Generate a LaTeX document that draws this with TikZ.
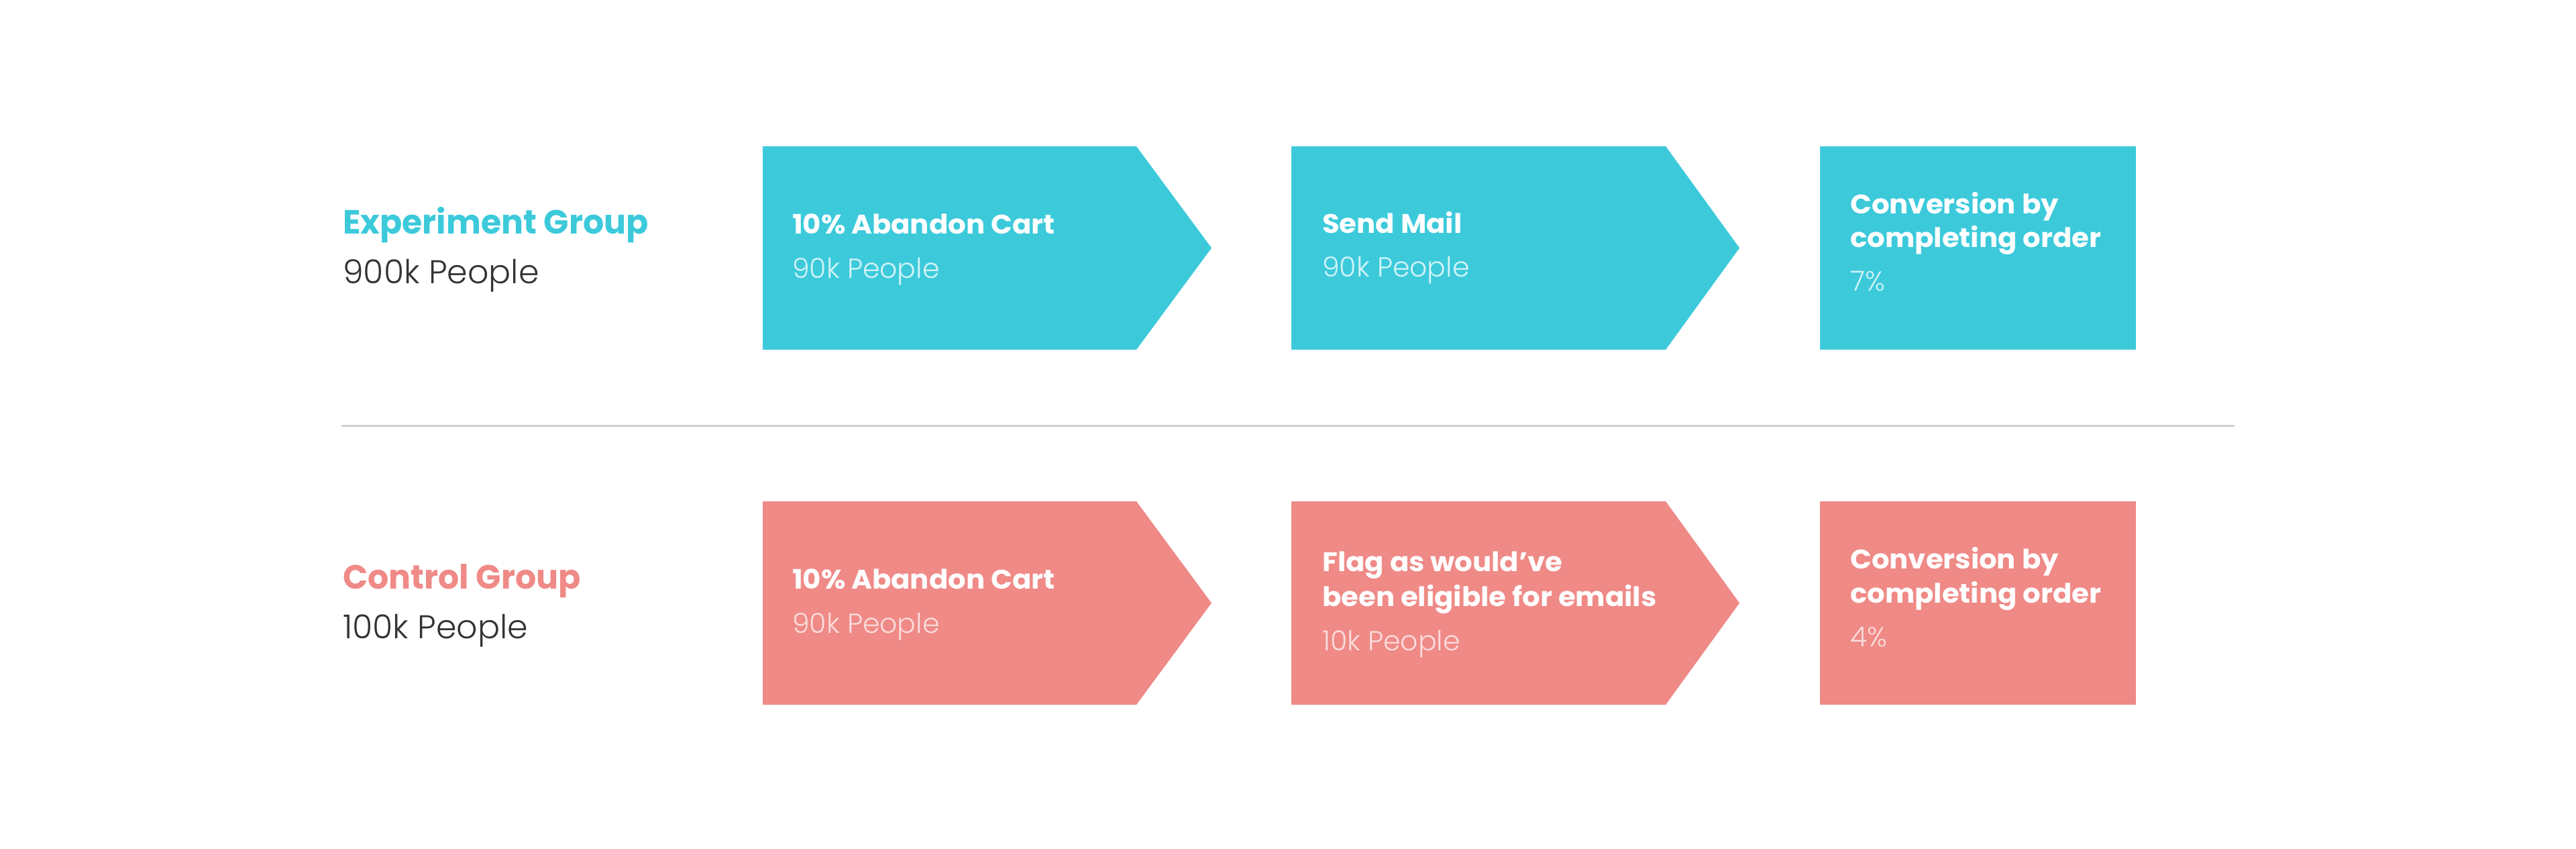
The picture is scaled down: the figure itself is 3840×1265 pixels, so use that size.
\documentclass[tikz,border=0pt]{standalone}
\usepackage{fontspec}
\newfontfamily\headfont{Poppins Bold}[FakeStretch=0.98]
\newfontfamily\boxheadfont{Poppins Bold}[FakeStretch=1.045]
\newfontfamily\lightfont{Poppins Light}
\definecolor{cyanbox}{HTML}{3CCADB}
\definecolor{pinkbox}{HTML}{EF8A87}
\definecolor{cyansub}{HTML}{D2F3F7}
\definecolor{pinksub}{HTML}{FBDCDB}
\definecolor{darktext}{HTML}{333333}
\definecolor{divider}{HTML}{CFCFCF}
\tikzset{
  grouphead/.style={anchor=base west, inner sep=0pt, font=\headfont\fontsize{50}{50}\selectfont},
  groupsub/.style={anchor=base west, inner sep=0pt, text=darktext, font=\lightfont\fontsize{49}{49}\selectfont},
  boxhead/.style={anchor=base west, inner sep=0pt, text=white, font=\boxheadfont\fontsize{40}{40}\selectfont},
  boxsub/.style={anchor=base west, inner sep=0pt, font=\lightfont\fontsize{41}{41}\selectfont},
}
\begin{document}
\begin{tikzpicture}[x=1pt,y=-1pt]
\useasboundingbox (0,0) rectangle (3840,1265);
% row 1 shapes
\fill[cyanbox] (1137,218) -- (1694,218) -- (1806,369.5) -- (1694,521) -- (1137,521) -- cycle;
\fill[cyanbox] (1925,218) -- (2483,218) -- (2593,369.5) -- (2483,521) -- (1925,521) -- cycle;
\fill[cyanbox] (2713,218) rectangle (3184,521);
% row 2 shapes
\fill[pinkbox] (1137,747) -- (1694,747) -- (1806,898.5) -- (1694,1050) -- (1137,1050) -- cycle;
\fill[pinkbox] (1925,747) -- (2483,747) -- (2593,898.5) -- (2483,1050) -- (1925,1050) -- cycle;
\fill[pinkbox] (2713,747) rectangle (3184,1050);
% divider
\coordinate (dl) at (509,634);
\coordinate (dr) at (3331,634);
\draw[divider, line width=3pt] (dl) -- (dr);
% row 1 texts
\node[grouphead, text=cyanbox] (eg) at (511,348) {Experiment Group};
\node[groupsub] (egs) at (511,422) {900k People};
\node[boxhead] (a1) at (1181,348) {10\% Abandon Cart};
\node[boxsub, text=cyansub] (a1s) at (1181,414) {90k People};
\node[boxhead] (b1) at (1971,347) {Send Mail};
\node[boxsub, text=cyansub] (b1s) at (1971,412) {90k People};
\node[boxhead] (c1) at (2758,318) {Conversion by};
\node[boxhead] (c1b) at (2758,368) {completing order};
\node[boxsub, text=cyansub] (c1s) at (2758,433) {7\%};
% row 2 texts
\node[grouphead, text=pinkbox] (cg) at (511,877) {Control Group};
\node[groupsub] (cgs) at (511,951) {100k People};
\node[boxhead] (a2) at (1181,877) {10\% Abandon Cart};
\node[boxsub, text=pinksub] (a2s) at (1181,943) {90k People};
\node[boxhead] (b2) at (1971,851) {Flag as would’ve};
\node[boxhead] (b2b) at (1971,903) {been eligible for emails};
\node[boxsub, text=pinksub] (b2s) at (1971,969) {10k People};
\node[boxhead] (c2) at (2758,847) {Conversion by};
\node[boxhead] (c2b) at (2758,898) {completing order};
\node[boxsub, text=pinksub] (c2s) at (2758,963) {4\%};
\end{tikzpicture}
\end{document}
